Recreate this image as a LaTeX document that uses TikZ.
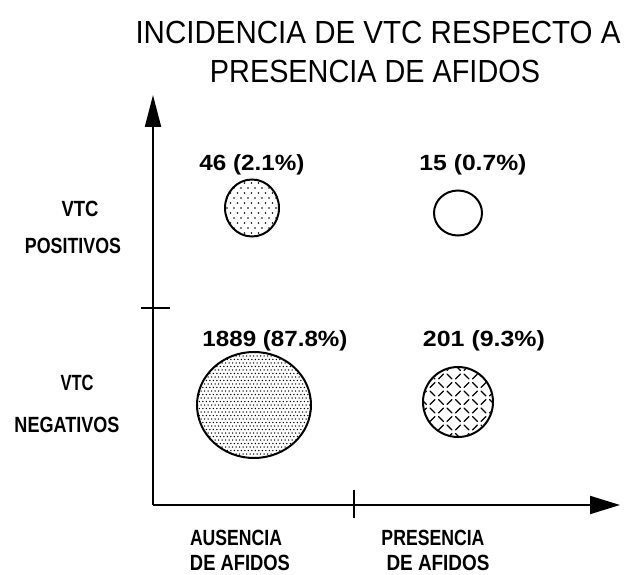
\documentclass[tikz,border=0pt]{standalone}
\usepackage{fontspec}
\setmainfont{Liberation Sans}
\usepackage{graphicx}
\usetikzlibrary{arrows.meta,shapes.geometric}
\newcommand\fw[2]{\resizebox{#1pt}{\height}{#2}}
\begin{document}
\begin{tikzpicture}[x=1pt,y=-1pt,
  lbl/.style={inner sep=0pt, text depth=0pt, font=\fontsize{22}{22}\selectfont\bfseries},
  ttl/.style={inner sep=0pt, text depth=0pt, font=\fontsize{32}{32}\selectfont},
  axis/.style={line width=2pt},
  bub/.style={line width=2pt, draw=black},
  dotf/.style={fill=black},
  dsh/.style={line width=1.4pt, line cap=round}]
\useasboundingbox (0,0) rectangle (633,575);

% title
\node[ttl] (t1) at (378,32) {\fw{485}{INCIDENCIA DE VTC RESPECTO A}};
\node[ttl] (t2) at (375,71.5) {\fw{330}{PRESENCIA DE AFIDOS}};

% axes
\coordinate (O) at (153,505);
\coordinate (ytip) at (153,95);
\coordinate (xtip) at (620,505);
\draw[axis,-{Triangle[length=32pt,width=16pt]}] (O) -- (ytip);
\draw[axis,-{Triangle[length=30pt,width=18pt]}] (O) -- (xtip);
\coordinate (yt1) at (141,308);
\coordinate (yt2) at (170,308);
\draw[axis] (yt1) -- (yt2);
\coordinate (xt1) at (354,490);
\coordinate (xt2) at (354,518);
\draw[line width=2.6pt] (xt1) -- (xt2);

% circle 1 : sparse dots
\begin{scope}
\clip (252,208) ellipse [x radius=27, y radius=28.5];
\foreach \j in {0,...,12}{
  \foreach \i in {0,...,9}{
    \pgfmathsetmacro\px{252-32+7*\i+3.5*mod(\j,2)}
    \pgfmathsetmacro\py{208-30+5*\j}
    \fill[dotf] (\px,\py) circle (0.9);
  }
}
\end{scope}
\node[bub, ellipse, inner sep=0pt, minimum width=54pt, minimum height=57pt] (c1) at (252,208) {};

% circle 2 : empty
\node[bub, ellipse, inner sep=0pt, minimum width=48pt, minimum height=45pt] (c2) at (458,213) {};

% circle 3 : dense dots
\begin{scope}
\clip (254,405) ellipse [x radius=57, y radius=53];
\foreach \j in {0,...,32}{
  \foreach \i in {0,...,34}{
    \pgfmathsetmacro\px{254-60+3.5*\i+1.75*mod(\j,2)}
    \pgfmathsetmacro\py{405-56+3.5*\j}
    \fill[dotf] (\px,\py) circle (0.75);
  }
}
\end{scope}
\node[bub, ellipse, inner sep=0pt, minimum width=114pt, minimum height=106pt] (c3) at (254,405) {};

% circle 4 : dashed diamond plate
\begin{scope}
\clip (458,402) circle (34);
\foreach \j in {-5,...,5}{
  \foreach \i in {-5,...,5}{
    \pgfmathtruncatemacro\pr{mod(\i+\j+20,2)}
    \pgfmathsetmacro\px{458+8.5*\i}
    \pgfmathsetmacro\py{402+8.5*\j}
    \ifnum\pr=0
      \draw[dsh] (\px-2.3,\py-2.3) -- (\px+2.3,\py+2.3);
    \else
      \draw[dsh] (\px-2.3,\py+2.3) -- (\px+2.3,\py-2.3);
    \fi
  }
}
\end{scope}
\node[bub, circle, inner sep=0pt, minimum size=70pt] (c4) at (458,402) {};

% value labels
\node[lbl] (v1) at (252,163) {\fw{105}{46 (2.1\%)}};
\node[lbl] (v2) at (473,163) {\fw{107}{15 (0.7\%)}};
\node[lbl] (v3) at (275,339) {\fw{145}{1889 (87.8\%)}};
\node[lbl] (v4) at (484,339) {\fw{122}{201 (9.3\%)}};

% row labels
\node[lbl] (r1) at (80,209) {\fw{37}{VTC}};
\node[lbl] (r2) at (73,246) {\fw{96}{POSITIVOS}};
\node[lbl] (r3) at (77,383) {\fw{33}{VTC}};
\node[lbl] (r4) at (67,425) {\fw{105}{NEGATIVOS}};

% column labels
\node[lbl] (a1) at (236,538) {\fw{92}{AUSENCIA}};
\node[lbl] (a2) at (240,563) {\fw{100}{DE AFIDOS}};
\node[lbl] (p1) at (433,538) {\fw{103}{PRESENCIA}};
\node[lbl] (p2) at (438,563) {\fw{103}{DE AFIDOS}};
\end{tikzpicture}
\end{document}
